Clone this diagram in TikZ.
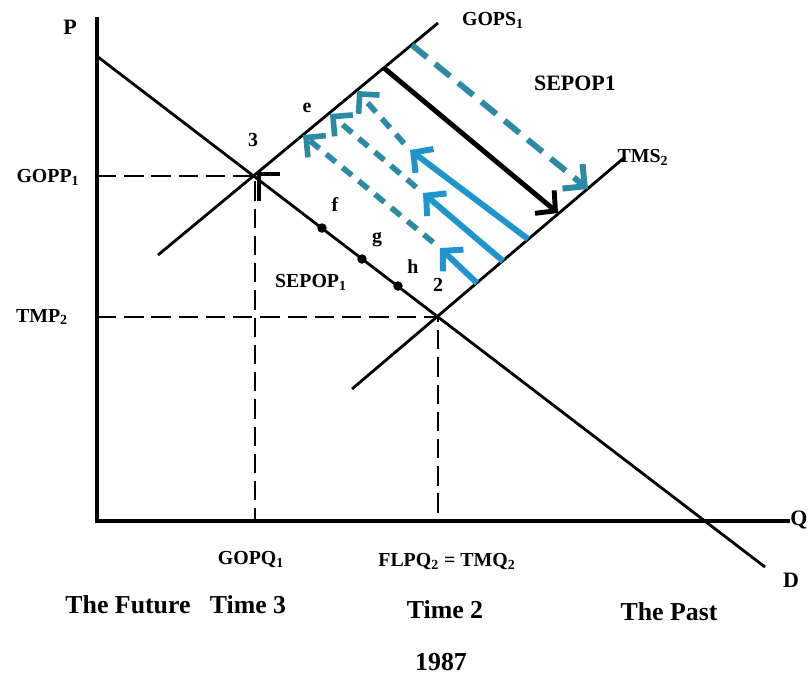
\documentclass[tikz,border=0pt]{standalone}
\usepackage{fontspec}
\setmainfont{Liberation Serif}
\usetikzlibrary{arrows.meta, positioning}
\definecolor{shiftblue}{RGB}{30,150,205}
\definecolor{shiftteal}{RGB}{45,138,165}

\begin{document}
\begin{tikzpicture}[x=0.02cm, y=-0.02cm,
        % Styles for the lines
        axis_line/.style={line width=2.8pt},
        curve_line/.style={line width=1.6pt},
        guide_line/.style={line width=1.1pt, dash pattern=on 11pt off 4.5pt},
        mark_line/.style={line width=2.8pt, line join=miter},
        % Styles for the arrows
        black_arrow/.style={line width=2.8pt, -{Straight Barb[length=8pt, width=17pt, line width=2.8pt]}},
        blue_arrow/.style={line width=3.4pt, shiftblue, -{Straight Barb[length=8pt, width=17pt, line width=3.4pt]}},
        blue_dash/.style={line width=3.2pt, shiftteal, dash pattern=on 7pt off 5pt, shorten <=5pt, -{Straight Barb[length=8pt, width=16pt, line width=3.2pt]}},
        long_dash/.style={line width=3.4pt, shiftteal, dash pattern=on 11pt off 6pt, -{Straight Barb[length=9pt, width=18pt, line width=3.4pt]}},
        % Styles for the nodes
        dot/.style={circle, fill=black, inner sep=0pt, minimum size=5.4pt},
        small_label/.style={font=\fontsize{11.3}{13}\selectfont\bfseries, inner sep=0pt},
        axis_label/.style={font=\fontsize{12.5}{14}\selectfont\bfseries, inner sep=0pt},
        big_label/.style={font=\fontsize{14.7}{17}\selectfont\bfseries, inner sep=0pt}
    ]
    \useasboundingbox (0,0) rectangle (809,681);

    % =========================================================================
    % AXES
    % =========================================================================
    \coordinate (origin) at (97,521);
    \coordinate (p_top) at (97,17);
    \coordinate (q_end) at (790,521);
    \draw [axis_line] (p_top) -- (origin) -- (q_end);

    \node (p_lab) [axis_label] at (70,27) {P};
    \node (q_lab) [axis_label] at (799,520) {Q};

    % =========================================================================
    % DEMAND AND SUPPLY LINES
    % =========================================================================
    \coordinate (d_top) at (98,57);
    \coordinate (d_end) at (765,567);
    \draw [curve_line] (d_top) -- (d_end);
    \node (d_lab) [axis_label] at (791,580) {D};

    \coordinate (gops_lo) at (158,255);
    \coordinate (gops_hi) at (438,23);
    \draw [curve_line] (gops_lo) -- (gops_hi);
    \node (gops_lab) [small_label] at (493,20) {GOPS\textsubscript{1}};

    \coordinate (tms_lo) at (352,389);
    \coordinate (tms_hi) at (625,157);
    \draw [curve_line] (tms_lo) -- (tms_hi);
    \node (tms_lab) [small_label] at (643,157) {TMS\textsubscript{2}};

    % =========================================================================
    % EQUILIBRIA 3 AND 2
    % =========================================================================
    \coordinate (eq3) at (255,176);
    \coordinate (eq2) at (438,317);
    \coordinate (gopp) at (97,176);
    \coordinate (gopq) at (255,521);
    \coordinate (tmp) at (97,317);
    \coordinate (tmq) at (438,521);
    \draw [guide_line] (gopp) -- (eq3) -- (gopq);
    \draw [guide_line] (tmp) -- (eq2) -- (tmq);

    \coordinate (mark_a) at (280,174);
    \coordinate (mark_b) at (259,174);
    \coordinate (mark_c) at (259,201);
    \draw [mark_line] (mark_a) -- (mark_b) -- (mark_c);

    \node (eq3_lab) [small_label] at (253,140) {3};
    \node (eq2_lab) [small_label] at (438,285) {2};
    \node (gopp_lab) [small_label] at (48,177) {GOPP\textsubscript{1}};
    \node (tmp_lab) [small_label] at (42,317) {TMP\textsubscript{2}};
    \node (gopq_lab) [small_label] at (251,560) {GOPQ\textsubscript{1}};
    \node (tmq_lab) [small_label] at (447,562) {FLPQ\textsubscript{2} = TMQ\textsubscript{2}};

    % points on the demand line
    \node (dot_f) [dot] at (322,228) {};
    \node (dot_g) [dot] at (362,259) {};
    \node (dot_h) [dot] at (398,286) {};
    \node (f_lab) [small_label] at (335,205) {f};
    \node (g_lab) [small_label] at (377,240) {g};
    \node (h_lab) [small_label] at (413,267) {h};
    \node (e_lab) [small_label] at (307,108) {e};
    \node (sepop_lo) [small_label] at (311,282) {SEPOP\textsubscript{1}};
    \node (sepop_hi) [axis_label] at (575,83) {SEPOP1};

    % =========================================================================
    % SHIFT ARROWS
    % =========================================================================
    \coordinate (k_start) at (384,68);
    \coordinate (k_end) at (558,213);
    \draw [black_arrow] (k_start) -- (k_end);

    \coordinate (b_start) at (412,45);
    \coordinate (b_end) at (588,189);
    \draw [long_dash] (b_start) -- (b_end);

    % three arrows back from TMS2 to GOPS1
    \coordinate (s1) at (528,239);
    \coordinate (m1) at (410,150);
    \coordinate (e1) at (357,91);
    \coordinate (s2) at (503,261);
    \coordinate (m2) at (423,193);
    \coordinate (e2) at (330,114);
    \coordinate (s3) at (477,283);
    \coordinate (m3) at (440,248);
    \coordinate (e3) at (303,135);
    \foreach \i in {1,2,3} {
        \draw [blue_arrow] (s\i) -- (m\i);
        \draw [blue_dash] (m\i) -- (e\i);
    }

    % =========================================================================
    % TIME LABELS
    % =========================================================================
    \node (future_lab) [big_label] at (128,605) {The Future};
    \node (time3_lab) [big_label] at (248,605) {Time 3};
    \node (time2_lab) [big_label] at (445,610) {Time 2};
    \node (past_lab) [big_label] at (669,612) {The Past};
    \node (year_lab) [big_label] at (441,662) {1987};

\end{tikzpicture}
\end{document}
